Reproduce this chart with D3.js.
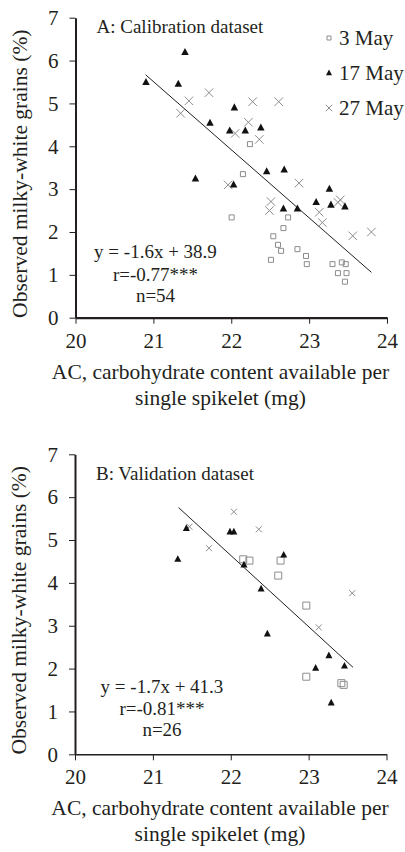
<!DOCTYPE html>
<html>
<head>
<meta charset="utf-8">
<script src="https://cdn.jsdelivr.net/npm/d3@7"></script>
<style>
  html, body { margin: 0; padding: 0; background: #fff; }
  svg { display: block; font-family: "Liberation Serif", "Times New Roman", serif; }
</style>
</head>
<body>
<svg id="chart" width="405" height="852"></svg>
<script>
// ---- Calibration dataset (panel A) ----
const calMay3 = [
  [22.24, 4.05], [22.15, 3.35], [22.73, 2.34], [22.005, 2.34], [22.67, 2.09],
  [22.54, 1.90], [22.60, 1.70], [22.64, 1.56], [22.85, 1.60], [22.96, 1.44],
  [22.97, 1.25], [22.51, 1.35], [23.30, 1.25], [23.42, 1.29], [23.47, 1.25],
  [23.37, 1.04], [23.48, 1.04], [23.46, 0.84]
];
const calMay17 = [
  [20.905, 5.49], [21.406, 6.19], [21.32, 5.45], [21.727, 4.54], [21.98, 4.36],
  [22.04, 4.90], [22.18, 4.36], [22.38, 4.43], [22.455, 3.41], [22.68, 3.45],
  [22.03, 3.10], [21.54, 3.24], [23.26, 3.00], [22.67, 2.54], [22.85, 2.54],
  [23.09, 2.69], [23.28, 2.63], [23.46, 2.59]
];
const calMay27 = [
  [21.714, 5.25], [21.457, 5.06], [21.35, 4.77], [22.275, 5.04], [22.61, 5.04],
  [22.22, 4.56], [22.05, 4.30], [22.36, 4.16], [21.96, 3.10], [22.87, 3.14],
  [22.51, 2.71], [22.49, 2.50], [23.13, 2.46], [23.17, 2.22], [23.56, 1.91],
  [23.80, 2.00], [23.37, 2.69], [23.40, 2.75]
];
// regression y = a*x + b, drawn over the fitted AC range
const calFit = { slope: -1.59, intercept: 38.9, from: 20.9, to: 23.8 };
const calLabels = ["y = -1.6x + 38.9", "r=-0.77***", "n=54"];

// ---- Validation dataset (panel B) ----
const valMay3 = [
  [22.16, 4.55], [22.24, 4.52], [22.64, 4.52], [22.61, 4.17],
  [22.97, 3.47], [22.97, 1.81], [23.42, 1.66], [23.45, 1.62]
];
const valMay17 = [
  [21.43, 5.27], [21.32, 4.55], [21.99, 5.19], [22.04, 5.19], [22.17, 4.42],
  [22.68, 4.65], [22.39, 3.86], [22.47, 2.81], [23.26, 2.30], [23.09, 2.01],
  [23.46, 2.06], [23.29, 1.20]
];
const valMay27 = [
  [21.47, 5.31], [21.72, 4.81], [22.04, 5.66], [22.36, 5.25],
  [23.56, 3.76], [23.13, 2.96]
];
const valFit = { slope: -1.664, intercept: 41.25, from: 21.33, to: 23.57 };
const valLabels = ["y = -1.7x + 41.3", "r=-0.81***", "n=26"];

// ---- shared axis settings ----
const xDomain = [20, 24];
const yDomain = [0, 7];
const xTicks = [20, 21, 22, 23, 24];
const yTicks = [0, 1, 2, 3, 4, 5, 6, 7];
const seriesNames = ["3 May", "17 May", "27 May"];
const xTitle = ["AC, carbohydrate content available per", "single spikelet (mg)"];
const yTitle = "Observed milky-white grains (%)";

const svg = d3.select("#chart");
const W = 311.5, H = 300;
const INK = "#231f20", GREY = "#8c8c8c";

// marker path builders (centered at 0,0)
function squarePath(s) { const h = s / 2; return `M${-h},${-h}H${h}V${h}H${-h}Z`; }
function trianglePath(w) {
  const h = w * 0.95;
  return `M0,${-h * 0.62}L${w / 2},${h * 0.38}L${-w / 2},${h * 0.38}Z`;
}
function timesPath(s) { const h = s / 2; return `M${-h},${-h}L${h},${h}M${-h},${h}L${h},${-h}`; }

function drawPanel(cfg) {
  const g = svg.append("g").attr("transform", `translate(${cfg.left},${cfg.top})`);
  const x = d3.scaleLinear().domain(xDomain).range([0, W]);
  const y = d3.scaleLinear().domain(yDomain).range([H, 0]);

  // axes
  const ya = g.append("g").call(d3.axisLeft(y).tickValues(yTicks).tickFormat(d3.format("d"))
      .tickSize(6).tickSizeOuter(0).tickPadding(11));
  const xa = g.append("g").attr("transform", `translate(0,${H})`)
    .call(d3.axisBottom(x).tickValues(xTicks).tickFormat(d3.format("d"))
      .tickSize(6).tickSizeOuter(0).tickPadding(9));
  [ya, xa].forEach(a => {
    a.selectAll("text").attr("font-size", 21).attr("fill", INK)
      .attr("font-family", "Liberation Serif, serif");
    a.selectAll("line").attr("stroke", INK).attr("stroke-width", 1);
  });
  ya.select(".domain").attr("stroke", INK).attr("stroke-width", 2);
  xa.select(".domain").attr("stroke", INK).attr("stroke-width", cfg.xAxisWidth);

  // regression line
  const f = cfg.fit;
  g.append("line")
    .attr("x1", x(f.from)).attr("y1", y(f.slope * f.from + f.intercept))
    .attr("x2", x(f.to)).attr("y2", y(f.slope * f.to + f.intercept))
    .attr("stroke", INK).attr("stroke-width", 1);

  // points
  g.selectAll(".sq").data(cfg.may3).join("path")
    .attr("d", squarePath(cfg.sqSize))
    .attr("transform", d => `translate(${x(d[0])},${y(d[1])})`)
    .attr("fill", "none").attr("stroke", GREY).attr("stroke-width", 1);
  g.selectAll(".tx").data(cfg.may27).join("path")
    .attr("d", timesPath(cfg.xSize))
    .attr("transform", d => `translate(${x(d[0])},${y(d[1])})`)
    .attr("fill", "none").attr("stroke", GREY).attr("stroke-width", 1);
  g.selectAll(".tr").data(cfg.may17).join("path")
    .attr("d", trianglePath(cfg.triSize))
    .attr("transform", d => `translate(${x(d[0])},${y(d[1])})`)
    .attr("fill", "#111");

  // panel title
  g.append("text").attr("x", 21).attr("y", cfg.titleY)
    .attr("font-size", 19).attr("fill", INK).text(cfg.title);

  // regression statistics
  const st = g.append("text").attr("text-anchor", "middle").attr("font-size", 19).attr("fill", INK);
  cfg.labels.forEach((t, i) => {
    st.append("tspan").attr("x", cfg.statX).attr("y", cfg.statY[i]).text(t);
  });

  // axis titles
  const xt = g.append("text").attr("text-anchor", "middle").attr("font-size", 21.5).attr("fill", INK);
  xTitle.forEach((t, i) => {
    xt.append("tspan").attr("x", 145).attr("y", H + 61 + i * 26).text(t);
  });
  g.append("text").attr("text-anchor", "middle").attr("font-size", 21.5).attr("fill", INK)
    .attr("transform", `translate(${-49},${H / 2 + 6}) rotate(-90)`)
    .text(yTitle);

  return { g, x, y };
}

drawPanel({
  left: 75.5, top: 17.7, title: "A: Calibration dataset", titleY: 15.5,
  may3: calMay3, may17: calMay17, may27: calMay27, fit: calFit, labels: calLabels,
  statX: 80, statY: [240.5, 263.5, 284], xAxisWidth: 2.2,
  sqSize: 5, triSize: 7.5, xSize: 8.5
});

drawPanel({
  left: 75, top: 454.3, title: "B: Validation dataset", titleY: 25.5,
  may3: valMay3, may17: valMay17, may27: valMay27, fit: valFit, labels: valLabels,
  statX: 87, statY: [238.5, 260.5, 282], xAxisWidth: 1.6,
  sqSize: 7, triSize: 7, xSize: 6
});

// legend (panel A)
const lg = svg.append("g");
const legendY = [38, 73, 108];
const legendPaths = [squarePath(4), trianglePath(6), timesPath(6.5)];
seriesNames.forEach((name, i) => {
  const mk = lg.append("path").attr("d", legendPaths[i])
    .attr("transform", `translate(329,${legendY[i]})`);
  if (i === 1) mk.attr("fill", "#111");
  else mk.attr("fill", "none").attr("stroke", GREY).attr("stroke-width", 1);
  lg.append("text").attr("x", 339).attr("y", legendY[i] + 7)
    .attr("font-size", 21).attr("fill", INK).text(name);
});
</script>
</body>
</html>
